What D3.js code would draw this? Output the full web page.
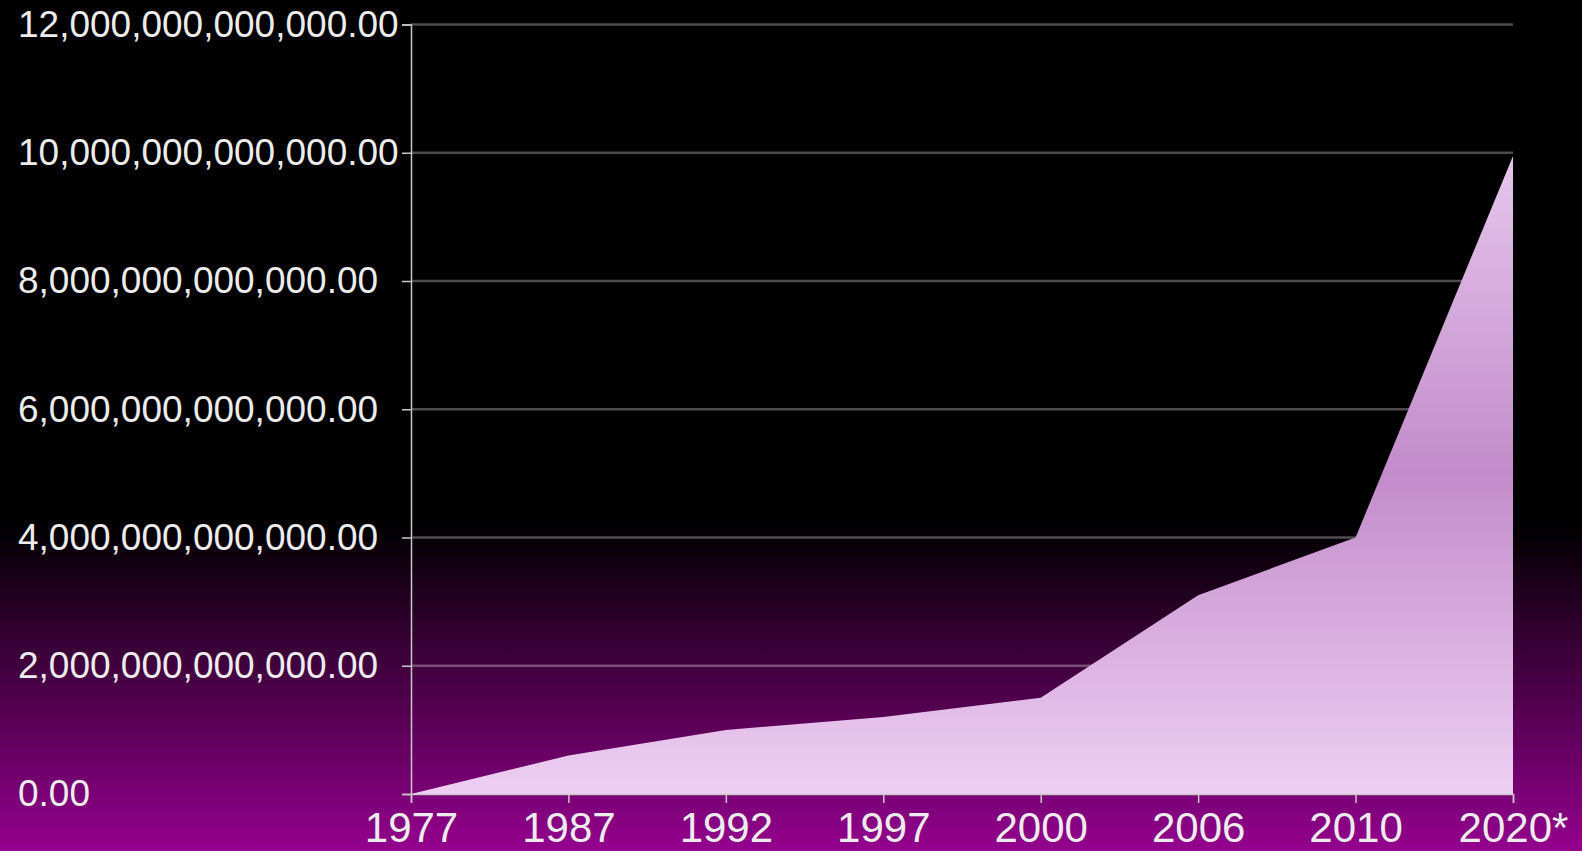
<!DOCTYPE html>
<html>
<head>
<meta charset="utf-8">
<script src="https://cdn.jsdelivr.net/npm/d3@7/dist/d3.min.js"></script>
<style>
  html, body { margin: 0; padding: 0; background: #000; overflow: hidden; }
  svg { display: block; }
  text { font-family: "Liberation Sans", Arial, sans-serif; }
</style>
</head>
<body>
<svg id="chart" width="1582" height="851"></svg>
<script>
// Data
const categories = ["1977", "1987", "1992", "1997", "2000", "2006", "2010", "2020*"];
const values = [0, 0.6e12, 1.0e12, 1.2e12, 1.5e12, 3.1e12, 4.0e12, 9.95e12];
const yTicks = [0, 2e12, 4e12, 6e12, 8e12, 10e12, 12e12];

const W = 1582, H = 851;
const svg = d3.select("#chart");
const defs = svg.append("defs");

// Background gradient
const bg = defs.append("linearGradient").attr("id", "bg")
  .attr("gradientUnits", "userSpaceOnUse")
  .attr("x1", 0).attr("y1", 0).attr("x2", 0).attr("y2", H);
bg.append("stop").attr("offset", 0).attr("stop-color", "#000000");
bg.append("stop").attr("offset", 0.615).attr("stop-color", "#000000");
bg.append("stop").attr("offset", 1).attr("stop-color", "#94008e");
svg.append("rect").attr("width", W).attr("height", H).attr("fill", "url(#bg)");

// Area gradient
const ag = defs.append("linearGradient").attr("id", "ag")
  .attr("gradientUnits", "userSpaceOnUse")
  .attr("x1", 0).attr("y1", 154).attr("x2", 0).attr("y2", 794);
ag.append("stop").attr("offset", 0).attr("stop-color", "#e6c6ec");
ag.append("stop").attr("offset", 0.5).attr("stop-color", "#c28cca");
ag.append("stop").attr("offset", 1).attr("stop-color", "#eecff3");

const x = d3.scalePoint().domain(categories).range([411, 1513]);
const y = d3.scaleLinear().domain([0, 12e12]).range([794, 24.5]);

// Gridlines
svg.append("g").selectAll("line").data(yTicks.filter(d => d > 0)).join("line")
  .attr("x1", 411).attr("x2", 1513)
  .attr("y1", d => y(d)).attr("y2", d => y(d))
  .attr("stroke", "rgba(255,255,255,0.3)").attr("stroke-width", 2.5);

// Area
const area = d3.area()
  .x((d, i) => x(categories[i]))
  .y0(y(0))
  .y1(d => y(d))
  .curve(d3.curveLinear);
svg.append("path").datum(values).attr("d", area).attr("fill", "url(#ag)");

// Y axis
const yAxis = svg.append("g").attr("transform", "translate(411,0)")
  .call(d3.axisLeft(y).tickValues(yTicks).tickFormat(d3.format(",.2f")).tickSize(9).tickPadding(5));
yAxis.select(".domain").attr("stroke", "#c8c8c8").attr("stroke-width", 1.5);
yAxis.selectAll(".tick line").attr("stroke", "#c8c8c8").attr("stroke-width", 1.5);
yAxis.selectAll("text").attr("fill", "#ececec").style("font-size", "37px")
  .attr("text-anchor", "start").attr("x", 18 - 411);

// X axis
const xAxis = svg.append("g").attr("transform", "translate(0,794)")
  .call(d3.axisBottom(x).tickSize(9).tickPadding(9));
xAxis.select(".domain").attr("stroke", "#c8c8c8").attr("stroke-width", 1.5);
xAxis.selectAll(".tick line").attr("stroke", "#c8c8c8").attr("stroke-width", 1.5);
xAxis.selectAll("text").attr("fill", "#ececec").style("font-size", "42px");
</script>
</body>
</html>
